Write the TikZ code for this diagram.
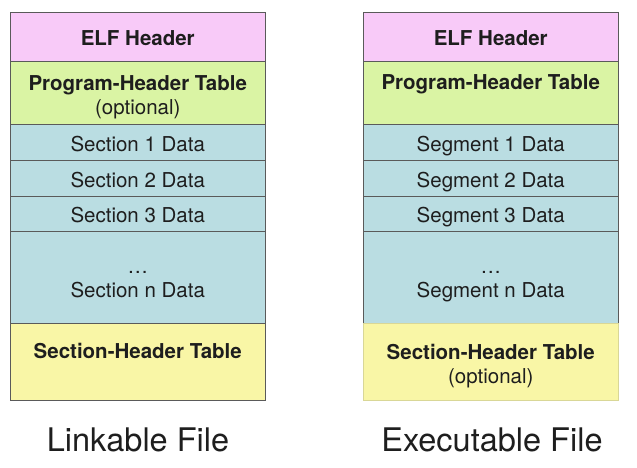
\documentclass[tikz,border=0pt]{standalone}
\usepackage{fontspec}
\setmainfont{TeX Gyre Heros}
\definecolor{elfpink}{HTML}{F8CAF8}
\definecolor{phtgreen}{HTML}{DAF4A4}
\definecolor{secblue}{HTML}{BADDE2}
\definecolor{shtyellow}{HTML}{F9F6A6}
\definecolor{edge}{HTML}{5A5A5A}
\definecolor{ink}{HTML}{1E1E1E}
\begin{document}
\begin{tikzpicture}[x=1pt,y=1pt,
  box/.style={draw=edge, line width=1pt, minimum width=255.5pt, inner sep=0pt},
  txt/.style={inner sep=0pt, align=center, text=ink, font=\fontsize{20.5}{24}\selectfont},
  boldtxt/.style={txt, font=\fontsize{20.5}{24}\selectfont\bfseries},
  caption/.style={text=ink, font=\fontsize{32.5}{36}\selectfont, anchor=base}]
\useasboundingbox (0,0) rectangle (637,468);
\fill[white] (0,0) rectangle (637,468);
% left column (Linkable File), center x = 137.75
\node[box, fill=elfpink, minimum height=49.5pt] (lelf) at (137.75,{468-37.25}) {};
\node[box, fill=phtgreen, minimum height=63pt] (lpht) at (137.75,{468-93.5}) {};
\node[box, fill=secblue, minimum height=36pt] (ls1) at (137.75,{468-143}) {};
\node[box, fill=secblue, minimum height=35.5pt] (ls2) at (137.75,{468-178.75}) {};
\node[box, fill=secblue, minimum height=35pt] (ls3) at (137.75,{468-214}) {};
\node[box, fill=secblue, minimum height=92pt] (lsn) at (137.75,{468-277.5}) {};
\node[box, fill=shtyellow, minimum height=77.5pt] (lsht) at (137.75,{468-362.25}) {};
\node[boldtxt] (lelft) at ([yshift=-0.5pt]lelf.center) {ELF Header};
\node[boldtxt] (lphtt) at ([yshift=-4pt]lpht.center) {Program-Header Table\\{\mdseries(optional)}};
\node[txt] (ls1t) at ([yshift=-1.5pt]ls1.center) {Section 1 Data};
\node[txt] (ls2t) at ([yshift=-1pt]ls2.center) {Section 2 Data};
\node[txt] (ls3t) at ([yshift=-1pt]ls3.center) {Section 3 Data};
\node[txt] (lsnt) at ([yshift=-7pt]lsn.center) {\dots\\Section n Data};
\node[boldtxt] (lshtt) at ([yshift=-1pt]lsht.center) {Section-Header Table\\~};
% right column (Executable File), center x = 490.75
\node[box, fill=elfpink, minimum height=49.5pt] (relf) at (490.75,{468-37.25}) {};
\node[box, fill=phtgreen, minimum height=63pt] (rpht) at (490.75,{468-93.5}) {};
\node[box, fill=secblue, minimum height=36pt] (rs1) at (490.75,{468-143}) {};
\node[box, fill=secblue, minimum height=35.5pt] (rs2) at (490.75,{468-178.75}) {};
\node[box, fill=secblue, minimum height=35pt] (rs3) at (490.75,{468-214}) {};
\node[box, fill=secblue, minimum height=92pt] (rsn) at (490.75,{468-277.5}) {};
\node[box, fill=shtyellow, draw=shtyellow!80!edge, minimum height=77.5pt] (rsht) at (490.75,{468-362.25}) {};
\node[boldtxt] (relft) at ([yshift=-0.5pt]relf.center) {ELF Header};
\node[boldtxt] (rphtt) at ([yshift=-1pt]rpht.center) {Program-Header Table\\~};
\node[txt] (rs1t) at ([yshift=-3.5pt]rs1.center) {Segment 1 Data};
\node[txt] (rs2t) at ([yshift=-3pt]rs2.center) {Segment 2 Data};
\node[txt] (rs3t) at ([yshift=-3pt]rs3.center) {Segment 3 Data};
\node[txt] (rsnt) at ([yshift=-9pt]rsn.center) {\dots\\Segment n Data};
\node[boldtxt] (rshtt) at ([yshift=-3.5pt]rsht.center) {Section-Header Table\\{\mdseries(optional)}};
% captions
\node[caption] (lcap) at (138,{468-452}) {Linkable File};
\node[caption] (rcap) at (492,{468-452}) {Executable File};
\end{tikzpicture}
\end{document}
